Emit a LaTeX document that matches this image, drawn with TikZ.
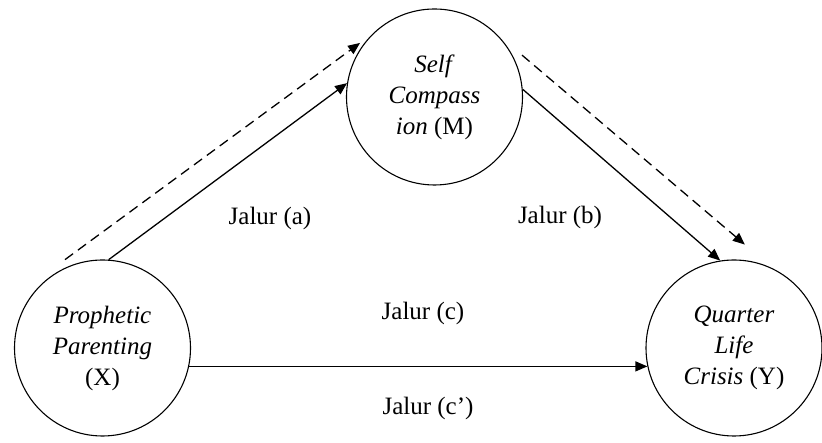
\documentclass[tikz,border=0pt]{standalone}
\usepackage{fontspec}
\setmainfont{Liberation Serif}
\usepackage{tikz}
\usetikzlibrary{arrows.meta,positioning,calc}
\tikzset{var/.style={draw=black,circle,line width=1.1pt,minimum size=176pt,inner sep=0pt,align=center,font=\fontsize{25}{31}\selectfont},arr/.style={-{Triangle[length=12pt,width=10pt]},line width=1.3pt},darr/.style={arr,dash pattern=on 10pt off 6pt},lbl/.style={font=\fontsize{25}{31}\selectfont}}

\begin{document}
\begin{tikzpicture}[x=1pt,y=1pt]
\useasboundingbox (0,0) rectangle (822,443);
\node[var] (X) at (102.5,95) {\textit{Prophetic}\\\textit{Parenting}\\(X)};
\node[var] (M) at (434.5,346) {\textit{Self}\\\textit{Compass}\\\textit{ion} (M)};
\node[var] (Y) at (734,95) {\textit{Quarter}\\\textit{Life}\\\textit{Crisis} (Y)};
% dashed paths start and end a little off the circles
\coordinate (xa) at ($(X.center)+(113:96)$);
\coordinate (ma) at ($(M.center)+(144:92)$);
\coordinate (mb) at ($(M.center)+(25.6:97)$);
\coordinate (yb) at ($(Y.center)+(84:104)$);
\draw[darr] (xa)--(ma);
\draw[arr] (X.86)--(M.171);
\draw[darr] (mb)--(yb);
\draw[arr] (M.5)--(Y.99);
\draw[arr] (X.-12)--(Y.192);
\node[lbl] (la) at (270,225) {Jalur (a)};
\node[lbl] (lb) at (560,226) {Jalur (b)};
\node[lbl] (lc) at (423,130) {Jalur (c)};
\node[lbl] (ld) at (428,35) {Jalur (c’)};
\end{tikzpicture}
\end{document}
